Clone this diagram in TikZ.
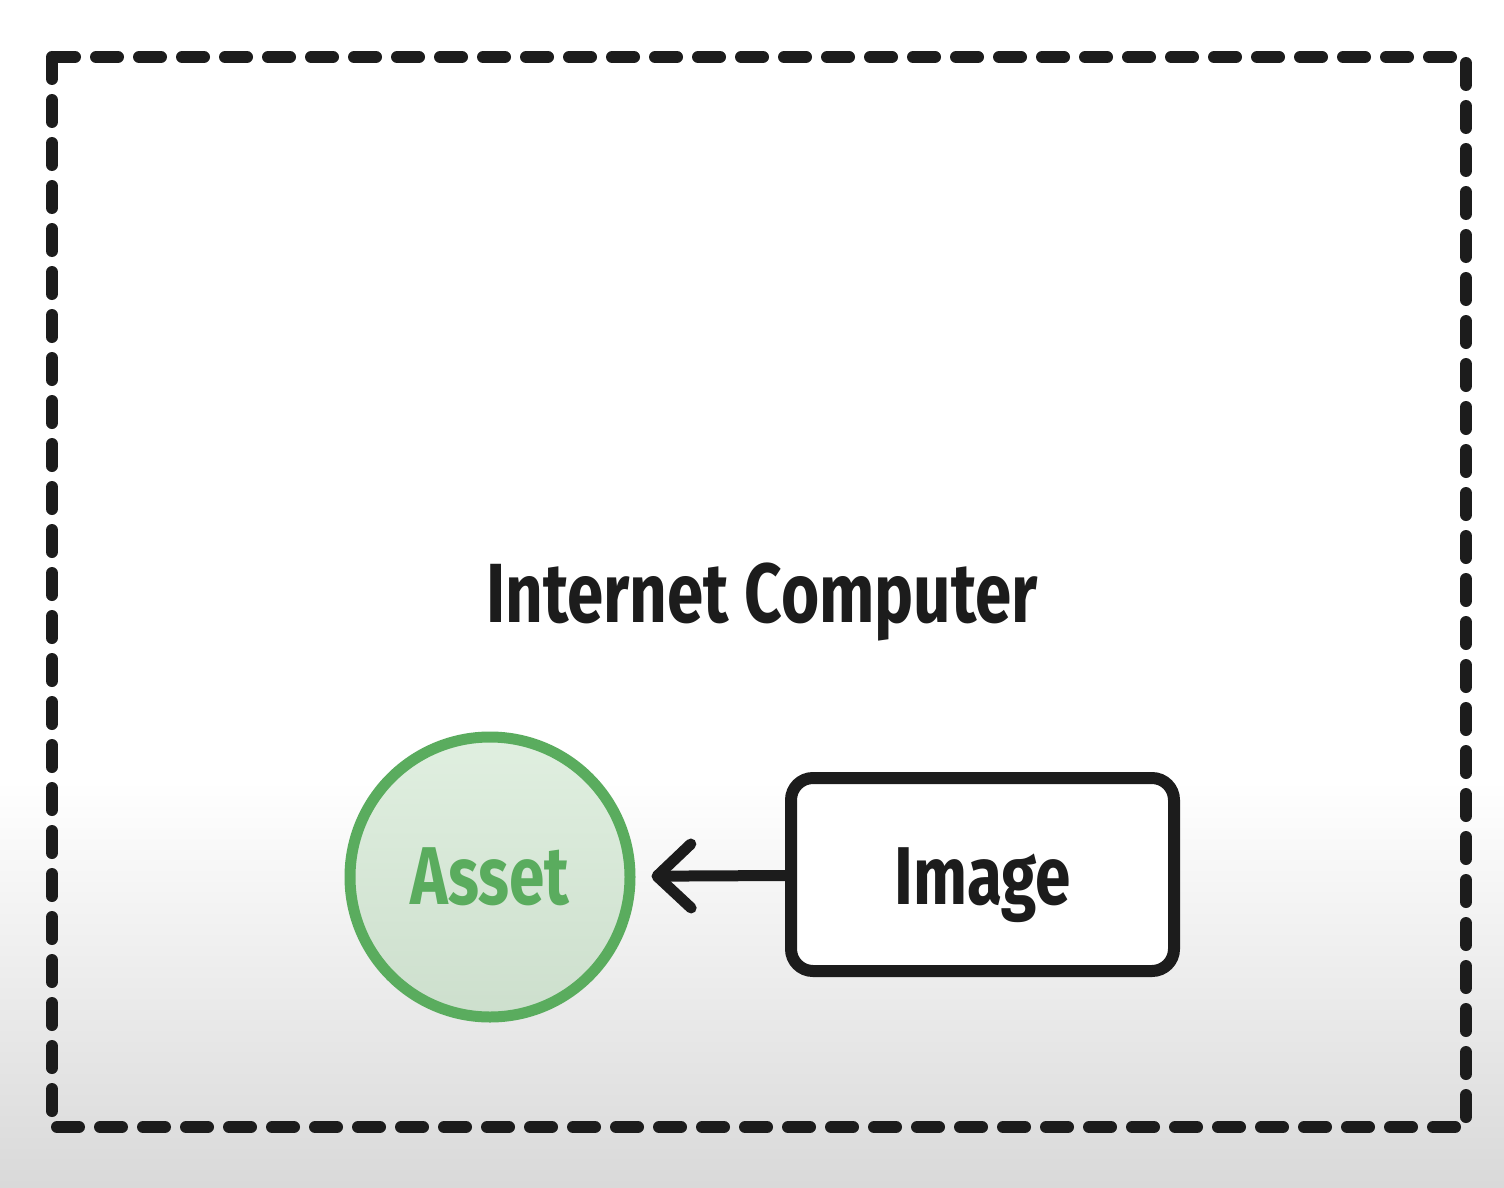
\documentclass[tikz,border=0pt]{standalone}
\usepackage{fontspec}
\setmainfont{Fira Sans}[FakeStretch=0.78]
\usepackage{tikz}
\usetikzlibrary{
	positioning,
	arrows.meta
}
\definecolor{inkblack}{HTML}{1C1C1C}
\definecolor{assetgreen}{HTML}{5AAC5E}
\definecolor{assettop}{HTML}{E0EFE0}
\definecolor{assetbottom}{HTML}{CDDFCD}

\begin{document}
\begin{tikzpicture}[x=0.5pt,y=-0.5pt,
	frame/.style={draw=inkblack,line width=6pt,dash pattern=on 11pt off 10.5pt,line cap=round,line join=round},
	asset/.style={circle,draw=assetgreen,line width=5.5pt,top color=assettop,bottom color=assetbottom,
		minimum size=140pt,inner sep=0pt,text=assetgreen,font=\bfseries\fontsize{41}{41}\selectfont},
	imagebox/.style={rectangle,draw=inkblack,line width=6pt,rounded corners=11pt,fill=white,
		minimum width=191.5pt,minimum height=96.5pt,text height=34pt,text depth=4pt,
		text=inkblack,font=\bfseries\fontsize{41}{41}\selectfont},
	title/.style={text=inkblack,font=\bfseries\fontsize{42}{42}\selectfont}
]
	\useasboundingbox (0,0) rectangle (1504,1188);
	% background
	\fill[white] (0,0) rectangle (1504,781);
	\shade[top color=white,bottom color=black!15] (0,780) rectangle (1504,1188);
	\draw[frame] (52,57) rectangle (1466,1127);

	\draw
		node [title]          (ic)    at (762,602)     {Internet Computer}
		node [asset]          (asset) at (490,877)     {Asset}
		node [imagebox]       (img)   at (982.5,874.5) {Image}

		(img) edge[inkblack,line width=5.5pt,line cap=round,shorten >=8pt,
			-{Straight Barb[length=17pt,width=32pt,line cap=round,line join=round]}] (asset)
	;
\end{tikzpicture}
\end{document}
